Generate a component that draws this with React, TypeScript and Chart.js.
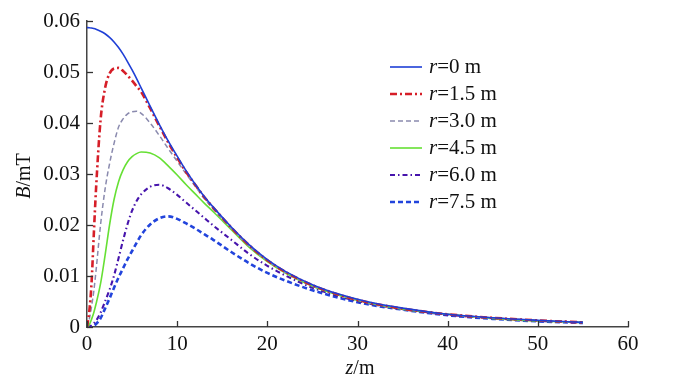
import React, { useEffect, useRef } from "react";
import { Chart, registerables } from "chart.js";

Chart.register(...registerables);

// ---- data ----
const zValues = [0, 0.25, 0.5, 0.75, 1, 1.5, 2, 2.5, 3, 3.5, 4, 4.5, 5, 5.5, 6, 7, 8, 9, 10, 11, 12, 13, 14, 16, 18, 20, 22, 25, 28, 31, 35, 40, 45, 50, 55];

const bR0 = [0.0587, 0.05868, 0.05862, 0.05852, 0.05838, 0.058, 0.0575, 0.0568, 0.0559, 0.0548, 0.0535, 0.052, 0.0504, 0.0487, 0.0469, 0.0433, 0.0398, 0.0365, 0.0335, 0.0306, 0.028, 0.0256, 0.0235, 0.0196, 0.0161, 0.0132, 0.0109, 0.0083, 0.0064, 0.005, 0.0037, 0.0025, 0.0018, 0.0013, 0.0009];
const bR15 = [0, 0.003, 0.0085, 0.018, 0.027, 0.0405, 0.0468, 0.0497, 0.0507, 0.0508, 0.0502, 0.0493, 0.0483, 0.0472, 0.0461, 0.0429, 0.0395, 0.0362, 0.0332, 0.0304, 0.0279, 0.0255, 0.0234, 0.0195, 0.016, 0.0131, 0.0108, 0.0082, 0.0063, 0.0049, 0.0036, 0.0025, 0.0018, 0.0013, 0.0009];
const bR30 = [0, 0.0015, 0.004, 0.007, 0.011, 0.02, 0.027, 0.032, 0.036, 0.0392, 0.0408, 0.0418, 0.0422, 0.0423, 0.0419, 0.04, 0.0376, 0.035, 0.0325, 0.03, 0.0276, 0.0252, 0.0231, 0.0193, 0.0158, 0.013, 0.0107, 0.0081, 0.0063, 0.0049, 0.0036, 0.0025, 0.0018, 0.0013, 0.0009];
const bR45 = [0, 0.0004, 0.0015, 0.0028, 0.0045, 0.0085, 0.014, 0.02, 0.025, 0.0285, 0.0308, 0.0324, 0.0334, 0.034, 0.0343, 0.0341, 0.0332, 0.0316, 0.0298, 0.0279, 0.0261, 0.0243, 0.0226, 0.0191, 0.0156, 0.0128, 0.0106, 0.008, 0.0062, 0.0048, 0.0035, 0.0025, 0.0017, 0.0012, 0.0009];
const bR60 = [0, 0.0001, 0.0003, 0.0007, 0.0012, 0.0028, 0.005, 0.0073, 0.0101, 0.0135, 0.017, 0.0202, 0.0228, 0.0247, 0.026, 0.0275, 0.0279, 0.0272, 0.0259, 0.0244, 0.0229, 0.0214, 0.0199, 0.0171, 0.0143, 0.012, 0.0101, 0.0077, 0.006, 0.0047, 0.0035, 0.0024, 0.0017, 0.0012, 0.0009];
const bR75 = [0, 0, 0.0001, 0.0003, 0.0006, 0.0017, 0.0036, 0.0056, 0.0077, 0.0097, 0.0115, 0.0133, 0.0149, 0.0165, 0.018, 0.0201, 0.0213, 0.0217, 0.0212, 0.0203, 0.0193, 0.0182, 0.0171, 0.0147, 0.0125, 0.0106, 0.0091, 0.0072, 0.0057, 0.0045, 0.0034, 0.0023, 0.0016, 0.0011, 0.0008];

const radiusLabels = ["0", "1.5", "3.0", "4.5", "6.0", "7.5"];
const xTicks = [0, 10, 20, 30, 40, 50, 60];
const yTicks = [0, 0.01, 0.02, 0.03, 0.04, 0.05, 0.06];

// ---- styles ----
const FONT = "'Liberation Serif', 'Times New Roman', serif";
const styles = [
  { color: "#1f3fd6", width: 1.6, dash: [] as number[] },
  { color: "#d61e28", width: 2.6, dash: [7, 3, 2, 3] },
  { color: "#8a8aae", width: 1.5, dash: [5, 3] },
  { color: "#66e034", width: 1.6, dash: [] as number[] },
  { color: "#4614ac", width: 2.1, dash: [5, 3, 1.5, 3] },
  { color: "#2244dc", width: 2.6, dash: [5, 3] },
];
const seriesData = [bR0, bR15, bR30, bR45, bR60, bR75];

type Part = { t: string; it?: boolean };

function drawRich(ctx: CanvasRenderingContext2D, parts: Part[], x: number, y: number, size: number, align: "left" | "center") {
  let total = 0;
  const widths = parts.map((p) => {
    ctx.font = `${p.it ? "italic " : ""}${size}px ${FONT}`;
    const w = ctx.measureText(p.t).width;
    total += w;
    return w;
  });
  let cx = align === "center" ? x - total / 2 : x;
  ctx.textAlign = "left";
  ctx.textBaseline = "middle";
  parts.forEach((p, i) => {
    ctx.font = `${p.it ? "italic " : ""}${size}px ${FONT}`;
    ctx.fillText(p.t, cx, y);
    cx += widths[i];
  });
}

const decorPlugin = {
  id: "decor",
  afterDraw(chart: any) {
    const ctx: CanvasRenderingContext2D = chart.ctx;
    const xs = chart.scales.x;
    const ys = chart.scales.y;
    const area = chart.chartArea;
    ctx.save();
    // inward tick marks
    ctx.strokeStyle = "#333";
    ctx.lineWidth = 1.3;
    ctx.setLineDash([]);
    xTicks.forEach((v) => {
      const px = Math.round(xs.getPixelForValue(v)) + 0.5;
      ctx.beginPath();
      ctx.moveTo(px, area.bottom);
      ctx.lineTo(px, area.bottom - 6);
      ctx.stroke();
    });
    yTicks.forEach((v) => {
      const py = Math.round(ys.getPixelForValue(v)) + 0.5;
      ctx.beginPath();
      ctx.moveTo(area.left, py);
      ctx.lineTo(area.left + 6, py);
      ctx.stroke();
    });

    // legend
    ctx.fillStyle = "#111";
    radiusLabels.forEach((lab, i) => {
      const y = 67 + i * 27;
      const st = styles[i];
      ctx.strokeStyle = st.color;
      ctx.lineWidth = st.width;
      ctx.setLineDash(st.dash);
      ctx.beginPath();
      ctx.moveTo(390, y);
      ctx.lineTo(422, y);
      ctx.stroke();
      ctx.setLineDash([]);
      drawRich(ctx, [{ t: "r", it: true }, { t: "=" + lab + " m" }], 429, y, 21, "left");
    });

    // axis titles
    drawRich(ctx, [{ t: "z", it: true }, { t: "/m" }], 360, 369, 20, "center");
    ctx.translate(25, 176);
    ctx.rotate(-Math.PI / 2);
    drawRich(ctx, [{ t: "B", it: true }, { t: "/mT" }], 0, 0, 20, "center");
    ctx.restore();
  },
};

export default function App() {
  const ref = useRef<HTMLCanvasElement | null>(null);

  useEffect(() => {
    if (!ref.current) return;
    const chart = new Chart(ref.current, {
      type: "line",
      data: {
        datasets: seriesData.map((arr, i) => ({
          label: "r=" + radiusLabels[i] + " m",
          data: zValues.map((z, j) => ({ x: z, y: arr[j] })),
          borderColor: styles[i].color,
          borderWidth: styles[i].width,
          borderDash: styles[i].dash,
          pointRadius: 0,
          fill: false,
          cubicInterpolationMode: "monotone" as const,
        })),
      },
      options: {
        responsive: false,
        animation: false,
        events: [],
        layout: { padding: { left: 0, right: 72, top: 21, bottom: 0 } },
        plugins: { legend: { display: false }, tooltip: { enabled: false } },
        scales: {
          x: {
            type: "linear",
            min: 0,
            max: 60,
            afterFit: (s: any) => {
              s.height = 52;
            },
            afterBuildTicks: (s: any) => {
              s.ticks = xTicks.map((v) => ({ value: v }));
            },
            grid: { display: false, drawTicks: false },
            border: { display: true, color: "#444", width: 1.5 },
            ticks: {
              color: "#111",
              padding: 5,
              maxRotation: 0,
              font: { family: FONT, size: 21 },
              callback: (v: any) => String(v),
            },
          },
          y: {
            type: "linear",
            min: 0,
            max: 0.06,
            afterFit: (s: any) => {
              s.width = 87;
            },
            afterBuildTicks: (s: any) => {
              s.ticks = yTicks.map((v) => ({ value: v }));
            },
            grid: { display: false, drawTicks: false },
            border: { display: true, color: "#444", width: 1.5 },
            ticks: {
              color: "#111",
              padding: 7,
              font: { family: FONT, size: 21 },
              callback: (v: any) => (Number(v) === 0 ? "0" : Number(v).toFixed(2)),
            },
          },
        },
      },
      plugins: [decorPlugin],
    });
    return () => chart.destroy();
  }, []);

  return (
    <div style={{ position: "absolute", left: 0, top: 0, width: 700, height: 379, background: "#fff" }}>
      <canvas ref={ref} width={700} height={379} style={{ display: "block", width: 700, height: 379 }} />
    </div>
  );
}
